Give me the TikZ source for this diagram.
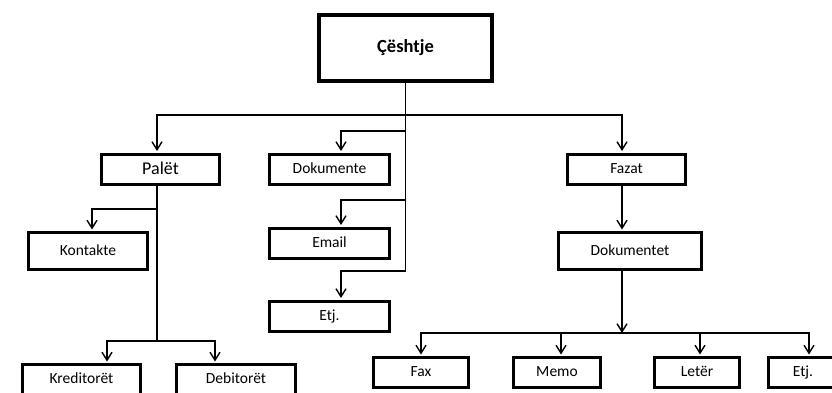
\documentclass[tikz,border=0pt]{standalone}
\usepackage{fontspec}
\setmainfont{Carlito}
\usetikzlibrary{arrows.meta}
\usetikzlibrary{positioning}

\tikzset{
  box/.style={draw, line width=3pt, inner sep=0pt, minimum height=30pt,
    text height=11pt, text depth=3pt, font=\fontsize{15.5}{18}\selectfont},
  rootbox/.style={draw, line width=4pt, inner sep=0pt, minimum width=173pt,
    minimum height=66pt, font=\fontsize{18.5}{22}\selectfont\bfseries},
  link/.style={line width=1.4pt, -{Straight Barb[length=8pt,width=10pt,line width=1.4pt]}, shorten >=1.5pt},
  trunk/.style={line width=1.4pt}
}

\begin{document}
\begin{tikzpicture}[x=1pt,y=-1pt]
                \useasboundingbox (0,0) rectangle (832,393);
                \clip (0,0) rectangle (832,393);

                \node[rootbox] (root) at (405.5,48) {Çështje};
                \node[box, minimum width=118pt, text height=12.5pt, text depth=2pt,
                  font=\fontsize{18}{21}\selectfont] (pal) at (160.5,169) {Palët};
                \node[box, minimum width=120pt] (dok) at (329.5,169) {Dokumente};
                \node[box, minimum width=118pt] (faz) at (626.5,169) {Fazat};
                \node[box, minimum width=120pt] (ema) [below = 41pt of dok] {Email};
                \node[box, minimum width=120pt] (etj) [below = 40pt of ema] {Etj.};
                \node[box, minimum width=119pt, minimum height=37pt] (kon) at (88,251) {Kontakte};
                \node[box, minimum width=143pt, minimum height=37pt] (dkt) at (630,251) {Dokumentet};
                \node[box, minimum width=118pt] (kre) at (81.5,379.5) {Kreditorët};
                \node[box, minimum width=119pt] (deb) [right = 33pt of kre] {Debitorët};
                \node[box, minimum width=95pt] (fax) at (421,372.5) {Fax};
                \node[box, minimum width=87pt] (mem) [right = 42pt of fax] {Memo};
                \node[box, minimum width=85pt] (let) [right = 51pt of mem] {Letër};
                \node[box, minimum width=69pt] (etj2) [right = 26pt of let] {Etj.};

                \coordinate (r1) at (405.5,115);
                \coordinate (c1) at (405.5,131);
                \coordinate (c2) at (405.5,200);
                \coordinate (c3) at (405.5,271);
                \coordinate (p1) at (157,209);
                \coordinate (p2) at (157,341);
                \coordinate (d1) at (622,333);

                \draw[trunk] (root.south) -- (c3);
                \draw[link] (r1) -| ([xshift=-3.5pt]pal.north);
                \draw[link] (r1) -| ([xshift=-4.5pt]faz.north);
                \draw[link] (c1) -| ([xshift=11.5pt]dok.north);
                \draw[link] (c2) -| ([xshift=11.5pt]ema.north);
                \draw[link] (c3) -| ([xshift=11.5pt]etj.north);

                \draw[trunk] ([xshift=-3.5pt]pal.south) -- (p2);
                \draw[link] (p1) -| ([xshift=4pt]kon.north);
                \draw[link] (p2) -| ([xshift=25.5pt]kre.north);
                \draw[link] (p2) -| ([xshift=-21pt]deb.north);

                \draw[link] ([xshift=-4.5pt]faz.south) -- ([xshift=-8pt]dkt.north);
                \draw[link, shorten >=0pt] ([xshift=-8pt]dkt.south) -- (d1);
                \draw[link] (d1) -| (fax.north);
                \draw[link] (d1) -| ([xshift=4pt]mem.north);
                \draw[link] (d1) -| ([xshift=3pt]let.north);
                \draw[link] (d1) -| ([xshift=6pt]etj2.north);

\end{tikzpicture}
\end{document}
